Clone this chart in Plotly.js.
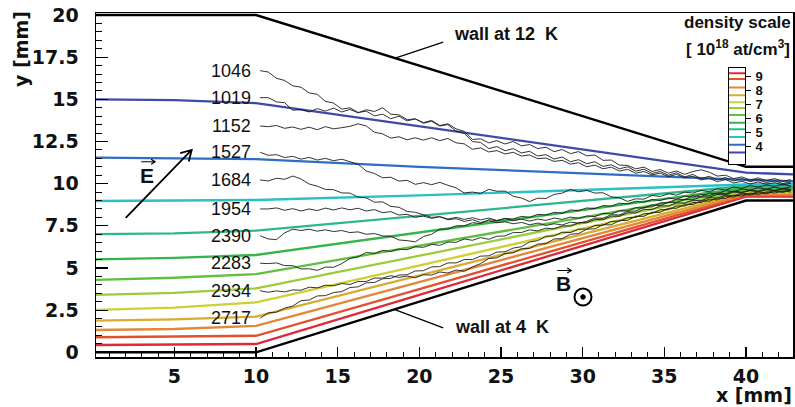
<!DOCTYPE html>
<html>
<head>
<meta charset="utf-8">
<script src="https://cdn.plot.ly/plotly-3.0.1.min.js"></script>
<style>html,body{margin:0;padding:0;background:#fff;}#chart{width:795px;height:407px;}</style>
</head>
<body>
<div id="chart"></div>
<script>
// ---------- data ----------
const xTickVals = [5, 10, 15, 20, 25, 30, 35, 40];
const xTickText = ['5', '10', '15', '20', '25', '30', '35', '40'];
const yTickVals = [0, 2.5, 5, 7.5, 10, 12.5, 15, 17.5, 20];
const yTickText = ['0', '2.5', '5', '7.5', '10', '12.5', '15', '17.5', '20'];

// walls of the cell
const wallX = [0, 10, 40, 43];
const wallBottomY = [0, 0, 9, 9];
const wallTopY = [20, 20, 11, 11];

// density contour lines (x nodes shared)
const xNodes = [0, 5, 10, 20, 30, 40, 43];
const lineD92 = [0.43, 0.45, 0.49, 3.40, 6.32, 9.23, 9.23];
const lineD88 = [0.89, 0.92, 0.98, 3.75, 6.53, 9.30, 9.30];
const lineD82 = [1.32, 1.38, 1.56, 4.16, 6.77, 9.37, 9.37];
const lineD77 = [1.87, 1.95, 2.11, 4.56, 7.00, 9.45, 9.45];
const lineD72 = [2.51, 2.65, 2.96, 5.15, 7.33, 9.52, 9.52];
const lineD67 = [3.40, 3.52, 3.79, 5.73, 7.66, 9.60, 9.60];
const lineD62 = [4.29, 4.42, 4.64, 6.32, 8.00, 9.68, 9.68];
const lineD57 = [5.51, 5.60, 5.77, 7.10, 8.44, 9.77, 9.77];
const lineD52 = [7.00, 7.05, 7.21, 8.09, 8.98, 9.86, 9.86];
const lineD47 = [8.97, 8.99, 9.03, 9.30, 9.62, 9.95, 10.00];
const lineD41 = [11.55, 11.52, 11.45, 11.00, 10.60, 10.22, 10.15];
const lineD36 = [15.00, 14.95, 14.78, 13.40, 12.00, 10.65, 10.55];

const densityLevels = [9.2, 8.8, 8.2, 7.65, 7.15, 6.75, 6.25, 5.7, 5.25, 4.7, 4.15, 3.6];
const densityColors = ['#dd2a3a', '#e0522f', '#e3873a', '#d8ac2e', '#cdd033', '#9ccc3c',
                       '#5fbf3f', '#34b54a', '#2db88c', '#2bbfc6', '#2f6dc4', '#3d4ba5'];
const scaleTickVals = [4, 5, 6, 7, 8, 9];
const scaleTickText = ['4', '5', '6', '7', '8', '9'];

// trajectories
const trackLabels = ['1046', '1019', '1152', '1527', '1684', '1954', '2390', '2283', '2934', '2717'];
const xTrack = [10.25,10.75,11.25,11.75,12.25,12.75,13.25,13.75,14.25,14.75,
  15.25,15.75,16.25,16.75,17.25,17.75,18.25,18.75,19.25,19.75,
  20.25,20.75,21.25,21.75,22.25,22.75,23.25,23.75,24.25,24.75,
  25.25,25.75,26.25,26.75,27.25,27.75,28.25,28.75,29.25,29.75,
  30.25,30.75,31.25,31.75,32.25,32.75,33.25,33.75,34.25,34.75,
  35.25,35.75,36.25,36.75,37.25,37.75,38.25,38.75,39.25,39.75,
  40.25,40.75,41.25,41.75,42.25,42.75];
const track1046 = [16.7,16.62,16.25,16.12,15.8,15.72,15.38,15.3,14.88,14.78,
  14.42,14.5,14.22,14.3,14.02,14.12,13.85,14.0,13.72,13.84,
  13.58,13.7,13.42,13.5,13.12,12.98,12.5,12.44,12.08,12.2,
  11.95,12.08,11.82,11.92,11.64,11.72,11.46,11.58,11.3,11.42,
  11.18,11.3,11.02,11.12,10.88,11.0,10.74,10.86,10.6,10.72,
  10.5,10.64,10.4,10.55,10.3,10.44,10.22,10.36,10.16,10.3,
  10.12,10.24,10.06,10.18,10.0,10.1];
const track1019 = [15.1,15.1,14.85,14.8,14.35,14.4,14.25,14.45,14.3,14.48,
  14.25,14.4,14.2,14.38,14.28,14.5,14.12,14.08,13.8,13.84,
  13.62,13.75,13.45,13.55,13.25,13.1,12.62,12.66,12.42,12.55,
  12.35,12.5,12.24,12.32,12.08,12.16,11.9,12.02,11.78,11.9,
  11.65,11.7,11.38,11.4,11.1,11.08,10.88,10.98,10.72,10.84,
  10.62,10.75,10.55,10.72,10.82,10.68,10.45,10.5,10.3,10.4,
  10.22,10.34,10.18,10.3,10.14,10.24];
const track1152 = [13.42,13.38,13.45,13.28,13.36,13.22,13.35,13.2,13.38,13.25,
  13.32,13.4,13.55,13.42,13.05,12.95,12.7,12.78,12.6,12.72,
  12.58,12.72,12.55,12.68,12.42,12.36,12.04,12.12,11.88,11.96,
  11.76,11.86,11.64,11.7,11.48,11.52,11.32,11.38,11.16,11.24,
  11.0,11.1,10.88,10.98,10.75,10.85,10.62,10.72,10.52,10.62,
  10.42,10.55,10.34,10.44,10.22,10.32,10.12,10.24,10.04,10.14,
  9.98,10.1,9.96,10.06,9.92,10.02];
const track1527 = [11.86,11.68,11.72,11.55,11.62,11.45,11.56,11.4,11.5,11.36,
  11.45,11.3,11.15,10.75,10.6,10.35,10.38,10.15,10.2,9.96,
  10.06,9.94,10.08,9.9,9.75,9.45,9.5,9.42,9.66,9.55,
  9.56,9.25,9.15,8.94,9.14,9.12,9.36,9.44,9.66,9.52,
  9.6,9.44,9.46,9.22,9.16,8.95,9.1,9.08,9.3,9.24,
  9.4,9.32,9.5,9.44,9.6,9.52,9.7,9.62,9.8,9.72,
  9.88,9.8,9.92,9.84,9.96,9.86];
const track1684 = [10.22,10.16,10.32,10.26,10.45,10.28,9.98,9.85,9.66,9.64,
  9.45,9.44,9.2,9.16,8.9,8.92,8.65,8.6,8.35,8.3,
  8.16,8.0,8.04,7.86,7.92,7.76,7.86,7.7,7.8,7.68,
  7.74,7.62,7.7,7.56,7.66,7.52,7.62,7.55,7.72,7.66,
  7.76,7.96,7.95,8.16,8.14,8.36,8.38,8.6,8.62,8.86,
  8.88,9.08,9.06,9.28,9.24,9.44,9.4,9.58,9.52,9.68,
  9.62,9.76,9.66,9.8,9.7,9.82];
const track1954 = [8.5,8.5,8.56,8.42,8.52,8.38,8.5,8.4,8.55,8.44,
  8.56,8.45,8.54,8.38,8.46,8.28,8.34,8.14,8.18,8.0,
  8.08,7.94,8.04,7.9,8.0,7.88,7.98,7.85,7.96,7.82,
  7.92,7.8,7.9,7.78,7.9,7.82,7.96,7.88,8.02,7.94,
  8.08,8.05,8.24,8.2,8.4,8.38,8.58,8.55,8.74,8.7,
  8.9,8.88,9.06,9.04,9.22,9.2,9.36,9.34,9.5,9.46,
  9.58,9.52,9.64,9.58,9.68,9.62];
const track2390 = [6.91,6.72,6.68,7.08,7.3,7.22,7.3,7.18,7.26,7.16,
  7.22,7.1,7.14,7.0,7.04,6.9,6.88,6.66,6.62,6.55,
  6.86,7.0,7.3,7.3,7.5,7.5,7.68,7.64,7.86,7.8,
  7.94,7.9,8.06,8.0,8.18,8.14,8.3,8.24,8.44,8.4,
  8.56,8.52,8.7,8.66,8.84,8.8,8.96,8.9,9.06,9.0,
  9.14,9.08,9.26,9.2,9.36,9.3,9.46,9.4,9.56,9.5,
  9.62,9.56,9.68,9.6,9.72,9.66];
const track2283 = [5.28,5.26,5.3,5.14,5.14,4.94,4.95,4.86,5.05,5.04,
  5.26,5.56,5.66,5.92,5.86,6.04,5.98,6.12,6.08,6.26,
  6.22,6.4,6.34,6.54,6.52,6.72,6.64,6.8,6.7,6.88,
  6.9,7.1,7.1,7.26,7.2,7.36,7.32,7.5,7.48,7.68,
  7.68,7.88,7.86,8.08,8.06,8.28,8.26,8.48,8.46,8.68,
  8.68,8.86,8.84,9.02,8.98,9.18,9.14,9.32,9.28,9.44,
  9.38,9.52,9.46,9.6,9.52,9.64];
const track2934 = [3.65,3.56,3.64,3.58,3.7,3.68,3.86,3.82,3.98,3.94,
  4.08,4.02,4.2,4.2,4.4,4.4,4.54,4.44,4.52,4.42,
  4.6,4.58,4.76,4.7,4.88,4.8,5.06,5.26,5.56,5.6,
  5.86,5.9,6.14,6.16,6.42,6.44,6.72,6.74,7.0,7.04,
  7.3,7.32,7.56,7.56,7.8,7.82,8.06,8.06,8.3,8.3,
  8.54,8.54,8.78,8.76,8.98,8.96,9.16,9.12,9.32,9.26,
  9.44,9.36,9.52,9.44,9.58,9.5];
const track2717 = [2.02,2.34,2.38,2.62,2.74,3.06,3.1,3.34,3.36,3.54,
  3.6,3.84,3.88,4.12,4.14,4.36,4.38,4.58,4.6,4.82,
  4.84,5.06,5.08,5.3,5.3,5.5,5.5,5.7,5.72,5.94,
  5.96,6.18,6.26,6.54,6.62,6.88,6.9,7.12,7.1,7.3,
  7.3,7.52,7.54,7.76,7.78,7.98,8.0,8.22,8.24,8.46,
  8.46,8.68,8.68,8.88,8.88,9.08,9.04,9.24,9.2,9.38,
  9.32,9.46,9.4,9.54,9.48,9.6];

// ---------- build ----------
const contourLines = [lineD92, lineD88, lineD82, lineD77, lineD72, lineD67,
                      lineD62, lineD57, lineD52, lineD47, lineD41, lineD36];
const tracks = [track1046, track1019, track1152, track1527, track1684,
                track1954, track2390, track2283, track2934, track2717];

const traces = [];
contourLines.forEach((ys, i) => {
  traces.push({x: xNodes, y: ys, mode: 'lines', type: 'scatter', hoverinfo: 'skip',
    line: {color: densityColors[i], width: 2.3}});
});
tracks.forEach((ys) => {
  traces.push({x: xTrack, y: ys, mode: 'lines', type: 'scatter', hoverinfo: 'skip',
    line: {color: '#1c1c1c', width: 0.9}});
});
traces.push({x: wallX, y: wallBottomY, mode: 'lines', type: 'scatter', line: {color: '#000', width: 2.4}});
traces.push({x: wallX, y: wallTopY, mode: 'lines', type: 'scatter', line: {color: '#000', width: 2.4}});

// density scale box (second subplot)
densityLevels.forEach((d, i) => {
  traces.push({x: [0, 1], y: [d, d], xaxis: 'x2', yaxis: 'y2', mode: 'lines', type: 'scatter',
    line: {color: densityColors[i], width: 2}});
});

const tickFont = {family: 'DejaVu Sans', size: 19, color: '#111', weight: 700};
const txtBold = (s) => ({family: 'Liberation Sans, Arial, sans-serif', size: s, color: '#111', weight: 700});

const annotations = [];
trackLabels.forEach((lab, i) => {
  annotations.push({x: 9.8, y: tracks[i][0], xref: 'x', yref: 'y', text: lab, showarrow: false,
    xanchor: 'right', yanchor: 'middle',
    font: {family: 'Liberation Sans, Arial, sans-serif', size: 18, color: '#111'}});
});
annotations.push(
  {text: 'y [mm]', xref: 'paper', yref: 'paper', x: (21 - 96) / 697, y: (357 - 49) / 344,
   textangle: -90, showarrow: false, xanchor: 'center', yanchor: 'middle', font: tickFont},
  {text: 'x [mm]', xref: 'paper', yref: 'paper', x: 1.0, y: (357 - 407) / 344,
   showarrow: false, xanchor: 'right', yanchor: 'bottom', borderpad: 0, font: tickFont},
  {text: 'wall at 12  K', xref: 'x', yref: 'y', x: 22.0, y: 18.9, showarrow: false,
   xanchor: 'left', yanchor: 'middle', font: txtBold(18)},
  {text: 'wall at 4  K', xref: 'x', yref: 'y', x: 22.03, y: 1.5, showarrow: false,
   xanchor: 'left', yanchor: 'middle', font: txtBold(18)},
  {text: 'E', xref: 'x', yref: 'y', x: 3.33, y: 10.5, showarrow: false, font: txtBold(21)},
  {text: 'B', xref: 'x', yref: 'y', x: 28.8, y: 4.05, showarrow: false, font: txtBold(21)},
  {text: 'density scale', xref: 'paper', yref: 'paper', x: (737 - 96) / 697, y: (357 - 22) / 344,
   showarrow: false, xanchor: 'center', yanchor: 'middle', font: txtBold(17)},
  {text: '[ 10<sup>18</sup> at/cm<sup>3</sup>]', xref: 'paper', yref: 'paper', x: (738 - 96) / 697,
   y: (357 - 48) / 344, showarrow: false, xanchor: 'center', yanchor: 'middle', font: txtBold(17)}
);

const pix = {xref: 'x', yref: 'y', xsizemode: 'pixel', ysizemode: 'pixel'};
const shapes = [
  // pointers to the walls
  Object.assign({type: 'line', xanchor: 18.52, yanchor: 17.44, x0: 0, y0: 0, x1: 48, y1: 16,
    line: {color: '#000', width: 1.3}}, pix),
  Object.assign({type: 'line', xanchor: 18.46, yanchor: 2.54, x0: 0, y0: 0, x1: 49, y1: -18.5,
    line: {color: '#000', width: 1.3}}, pix),
  // E field arrow
  Object.assign({type: 'path', xanchor: 6.06, yanchor: 12.0,
    path: 'M-66,-68L0,0M-3,-11.6L0,0L-11.5,-3.3', line: {color: '#000', width: 1.8}}, pix),
  // small vector arrows over E and B
  Object.assign({type: 'path', xanchor: 3.82, yanchor: 11.3,
    path: 'M-14,0L0,0M-4,2.5L0,0L-4,-2.5', line: {color: '#000', width: 1.2}}, pix),
  Object.assign({type: 'path', xanchor: 29.3, yanchor: 4.85,
    path: 'M-14,0L0,0M-4,2.5L0,0L-4,-2.5', line: {color: '#000', width: 1.2}}, pix),
  // B out-of-plane symbol
  Object.assign({type: 'circle', xanchor: 30.02, yanchor: 3.28, x0: -8.5, x1: 8.5, y0: -8.5, y1: 8.5,
    line: {color: '#000', width: 2}}, pix),
  Object.assign({type: 'circle', xanchor: 30.02, yanchor: 3.28, x0: -2.3, x1: 2.3, y0: -2.3, y1: 2.3,
    fillcolor: '#000', line: {color: '#000', width: 1}}, pix)
];

const layout = {
  width: 795, height: 407,
  margin: {l: 96, r: 2, t: 13, b: 50, pad: 0},
  paper_bgcolor: '#fff', plot_bgcolor: '#fff',
  showlegend: false,
  xaxis: {range: [0.2, 42.88], showline: true, mirror: true, linecolor: '#000', linewidth: 1.5,
    ticks: 'inside', ticklen: 10, tickwidth: 1.2, tickcolor: '#000',
    tickmode: 'array', tickvals: xTickVals, ticktext: xTickText, tickfont: tickFont,
    ticklabelstandoff: 2,
    minor: {ticks: 'inside', ticklen: 5, tickmode: 'linear', tick0: 0, dtick: 1, tickcolor: '#000', tickwidth: 1},
    showgrid: false, zeroline: false, domain: [0, 1]},
  yaxis: {range: [-0.28, 20.12], showline: true, mirror: true, linecolor: '#000', linewidth: 1.5,
    ticks: 'inside', ticklen: 12, tickwidth: 1.2, tickcolor: '#000',
    tickmode: 'array', tickvals: yTickVals, ticktext: yTickText, tickfont: tickFont,
    ticklabelstandoff: 12,
    minor: {ticks: 'inside', ticklen: 6, tickmode: 'linear', tick0: 0, dtick: 0.5, tickcolor: '#000', tickwidth: 1},
    showgrid: false, zeroline: false, domain: [0, 1]},
  xaxis2: {domain: [(729 - 96) / 697, (745 - 96) / 697], range: [0, 1], anchor: 'y2',
    showline: true, mirror: true, linecolor: '#000', linewidth: 1, showticklabels: false,
    ticks: '', showgrid: false, zeroline: false, fixedrange: true},
  yaxis2: {domain: [(357 - 164.3) / 344, (357 - 67.7) / 344], range: [2.76, 9.6], anchor: 'x2',
    side: 'right', showline: true, mirror: true, linecolor: '#000', linewidth: 1,
    ticks: 'outside', ticklen: 5, tickcolor: '#000', tickwidth: 1,
    tickmode: 'array', tickvals: scaleTickVals, ticktext: scaleTickText,
    tickfont: txtBold(13), ticklabelstandoff: 2,
    showgrid: false, zeroline: false, fixedrange: true},
  annotations: annotations,
  shapes: shapes
};

Plotly.newPlot('chart', traces, layout, {displayModeBar: false, staticPlot: true});
</script>
</body>
</html>
